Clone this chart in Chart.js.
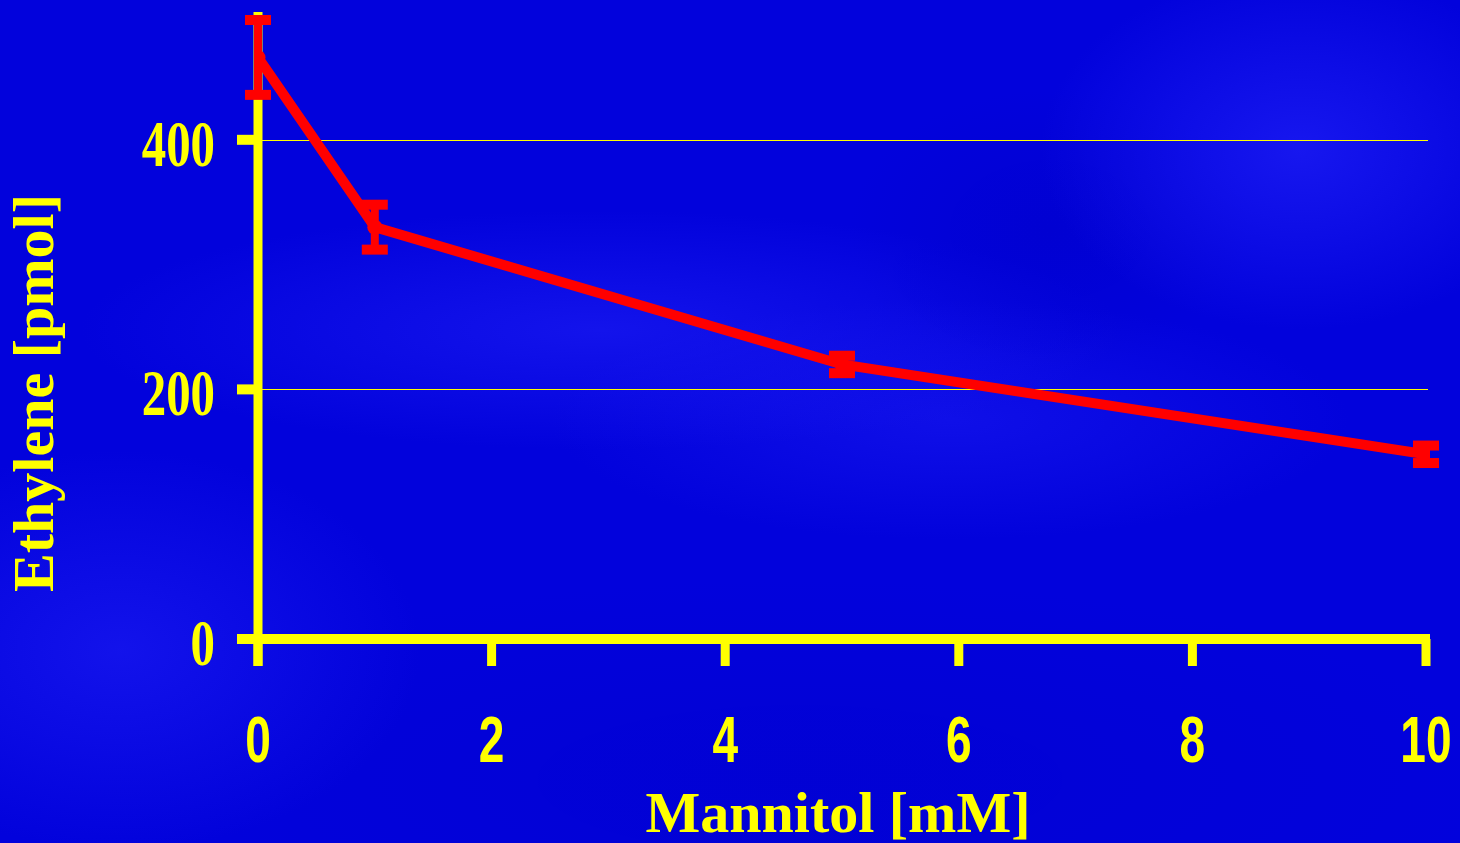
<!DOCTYPE html>
<html>
<head>
<meta charset="utf-8">
<script src="https://cdn.jsdelivr.net/npm/chart.js@4/dist/chart.umd.min.js"></script>
<style>
  html, body { margin: 0; padding: 0; width: 1460px; height: 843px; overflow: hidden; }
  body {
    background-color: #0202dc;
    background-image:
      radial-gradient(ellipse 260px 180px at 1300px 150px, rgba(40,40,255,0.55), rgba(40,40,255,0) 100%),
      radial-gradient(ellipse 200px 140px at 1050px 230px, rgba(0,0,200,0.5), rgba(0,0,200,0) 100%),
      radial-gradient(ellipse 520px 120px at 600px 330px, rgba(40,40,255,0.45), rgba(40,40,255,0) 100%),
      radial-gradient(ellipse 300px 200px at 120px 650px, rgba(35,35,250,0.5), rgba(35,35,250,0) 100%),
      radial-gradient(ellipse 400px 120px at 950px 420px, rgba(40,40,255,0.35), rgba(40,40,255,0) 100%),
      radial-gradient(ellipse 700px 200px at 800px 780px, rgba(0,0,200,0.4), rgba(0,0,200,0) 100%);
  }
  #wrap { position: absolute; left: 0; top: 0; width: 1460px; height: 843px; }
</style>
</head>
<body>
<div id="wrap"><canvas id="c" width="1460" height="843"></canvas></div>
<script>
// ---- data ----
const mannitol = [0, 1, 5, 10];
const ethylene = [466, 330, 220, 148];
const ethyleneErr = [30, 18, 7, 7];
const xTickValues = [0, 2, 4, 6, 8, 10];
const yTickValues = [0, 200, 400];
const xTitle = 'Mannitol [mM]';
const yTitle = 'Ethylene [pmol]';

const YELLOW = '#ffff00';
const RED = '#ff0000';

const axesPlugin = {
  id: 'customAxes',
  beforeDatasetsDraw(chart) {
    const ctx = chart.ctx;
    const xs = chart.scales.x, ys = chart.scales.y;
    const x0 = xs.getPixelForValue(0);
    const y0 = ys.getPixelForValue(0);
    ctx.save();
    // gridlines (crisp 1px yellow)
    ctx.fillStyle = YELLOW;
    yTickValues.forEach(v => {
      if (v === 0) return;
      const py = Math.round(ys.getPixelForValue(v));
      ctx.fillRect(x0, py, xs.getPixelForValue(10) + 2 - x0, 1);
    });
    ctx.strokeStyle = YELLOW;
    ctx.lineCap = 'butt';
    // y axis line
    ctx.lineWidth = 9;
    ctx.beginPath();
    ctx.moveTo(x0, ys.getPixelForValue(500) - 3);
    ctx.lineTo(x0, y0 + 27);
    ctx.stroke();
    // x axis line
    ctx.lineWidth = 10;
    ctx.beginPath();
    ctx.moveTo(x0 - 21, y0);
    ctx.lineTo(xs.getPixelForValue(10) + 4, y0);
    ctx.stroke();
    // x ticks
    ctx.lineWidth = 9;
    xTickValues.forEach(v => {
      const px = xs.getPixelForValue(v);
      ctx.beginPath();
      ctx.moveTo(px, y0);
      ctx.lineTo(px, y0 + 27);
      ctx.stroke();
    });
    // y ticks
    ctx.lineWidth = 10;
    yTickValues.forEach(v => {
      const py = ys.getPixelForValue(v);
      ctx.beginPath();
      ctx.moveTo(x0 - 21, py);
      ctx.lineTo(x0, py);
      ctx.stroke();
    });
    ctx.restore();
  },
  afterDatasetsDraw(chart) {
    const ctx = chart.ctx;
    const xs = chart.scales.x, ys = chart.scales.y;
    ctx.save();
    ctx.strokeStyle = RED;
    ctx.lineCap = 'butt';
    mannitol.forEach((xv, i) => {
      const px = xs.getPixelForValue(xv);
      const top = ys.getPixelForValue(ethylene[i] + ethyleneErr[i]);
      const bot = ys.getPixelForValue(ethylene[i] - ethyleneErr[i]);
      ctx.lineWidth = 8;
      ctx.beginPath();
      ctx.moveTo(px, top);
      ctx.lineTo(px, bot);
      ctx.stroke();
      ctx.lineWidth = 10;
      [top, bot].forEach(yy => {
        ctx.beginPath();
        ctx.moveTo(px - 13, yy);
        ctx.lineTo(px + 13, yy);
        ctx.stroke();
      });
    });
    ctx.restore();
  },
  afterDraw(chart) {
    const ctx = chart.ctx;
    const xs = chart.scales.x, ys = chart.scales.y;
    ctx.save();
    ctx.fillStyle = YELLOW;
    // y tick labels (condensed serif)
    ctx.font = 'bold 66px "Liberation Serif", "Times New Roman", serif';
    ctx.textAlign = 'right';
    ctx.textBaseline = 'alphabetic';
    yTickValues.forEach(v => {
      const py = ys.getPixelForValue(v);
      ctx.save();
      ctx.translate(215, py + 26);
      ctx.scale(0.74, 1);
      ctx.fillText(String(v), 0, 0);
      ctx.restore();
    });
    // x tick labels (condensed sans)
    ctx.font = 'bold 64px "Liberation Sans", Arial, sans-serif';
    ctx.textAlign = 'center';
    xTickValues.forEach(v => {
      const px = xs.getPixelForValue(v);
      ctx.save();
      ctx.translate(px, 762);
      ctx.scale(0.72, 1);
      ctx.fillText(String(v), 0, 0);
      ctx.restore();
    });
    // axis titles
    ctx.font = 'bold 58px "Liberation Serif", "Times New Roman", serif';
    ctx.textAlign = 'center';
    ctx.fillText(xTitle, 838, 832);
    ctx.save();
    ctx.translate(53, 393);
    ctx.rotate(-Math.PI / 2);
    ctx.fillText(yTitle, 0, 0);
    ctx.restore();
    ctx.restore();
  }
};

new Chart(document.getElementById('c'), {
  type: 'line',
  data: {
    datasets: [{
      data: mannitol.map((x, i) => ({ x: x, y: ethylene[i] })),
      borderColor: RED,
      backgroundColor: RED,
      borderWidth: 10,
      pointRadius: 7.5,
      pointBorderWidth: 0,
      pointBackgroundColor: RED,
      tension: 0,
      fill: false
    }]
  },
  options: {
    responsive: false,
    animation: false,
    devicePixelRatio: 1,
    layout: { padding: { left: 198, right: 34, top: 15, bottom: 144 } },
    plugins: { legend: { display: false }, tooltip: { enabled: false } },
    scales: {
      x: {
        type: 'linear', min: 0, max: 10,
        ticks: { display: false },
        grid: { display: false },
        border: { display: false },
        afterFit: s => { s.height = 60; }
      },
      y: {
        type: 'linear', min: 0, max: 500,
        afterBuildTicks: s => { s.ticks = yTickValues.map(v => ({ value: v })); },
        ticks: { display: false },
        grid: { display: false },
        border: { display: false },
        afterFit: s => { s.width = 60; }
      }
    }
  },
  plugins: [axesPlugin]
});
</script>
</body>
</html>
